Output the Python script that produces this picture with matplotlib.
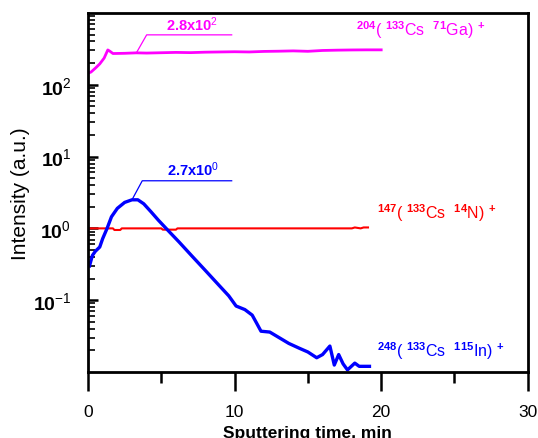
import matplotlib
matplotlib.use("Agg")
import matplotlib.pyplot as plt
from matplotlib.ticker import FixedLocator, LogLocator, NullFormatter

plt.rcParams['font.family'] = ['Liberation Sans', 'DejaVu Sans']
plt.rcParams['mathtext.fontset'] = 'custom'
plt.rcParams['mathtext.rm'] = 'Liberation Sans'
plt.rcParams['mathtext.bf'] = 'Liberation Sans:bold'
plt.rcParams['mathtext.it'] = 'Liberation Sans:italic'

# datos
ga_t = [0.0, 0.2, 0.5, 0.8, 1.1, 1.35, 1.5, 1.7, 2.5, 3.3, 4.0, 5.0, 6.0, 7.0,
        8.0, 9.0, 10.0, 11.0, 12.0, 13.0, 14.0, 15.0, 16.0, 17.0, 18.0, 19.0, 20.0]
ga_v = [145, 150, 170, 195, 235, 305, 292, 272, 274, 278, 276, 279, 282, 280,
        284, 286, 288, 286, 291, 293, 296, 292, 300, 303, 305, 306, 306]

n_t = [0.0, 1.7, 1.8, 2.2, 2.3, 5.0, 5.1, 6.0, 6.1, 18.0, 18.2, 18.6, 18.8, 19.1]
n_v = [1.0, 1.0, 0.95, 0.95, 1.0, 1.0, 0.96, 0.96, 1.0, 1.0, 1.03, 1.0, 1.03, 1.03]

in_t = [0.1, 0.3, 0.5, 0.8, 1.0, 1.3, 1.6, 2.0, 2.5, 3.0, 3.4, 3.8, 4.3, 4.8,
        5.45, 6.2, 7.1, 8.0, 9.0, 9.6, 10.1, 10.7, 11.2, 11.5, 11.8, 12.4, 13.05,
        13.7, 14.4, 15.0, 15.6, 16.0, 16.5, 16.8, 17.1, 17.4, 17.7, 18.2, 18.5, 19.2]
in_v = [0.3, 0.42, 0.48, 0.55, 0.72, 1.0, 1.45, 1.9, 2.3, 2.5, 2.5, 2.2, 1.7, 1.3,
        0.94, 0.65, 0.41, 0.26, 0.156, 0.115, 0.083, 0.074, 0.062, 0.048, 0.037, 0.036, 0.030,
        0.025, 0.0215, 0.019, 0.0158, 0.0175, 0.023, 0.0125, 0.0175, 0.013, 0.0107, 0.0133, 0.012, 0.012]

ga_label = r'$^{\mathbf{204}}$( $^{\mathbf{133}}$Cs  $^{\mathbf{71}}$Ga) $^{\mathbf{+}}$'
n_label = r'$^{\mathbf{147}}$( $^{\mathbf{133}}$Cs  $^{\mathbf{14}}$N) $^{\mathbf{+}}$'
in_label = r'$^{\mathbf{248}}$( $^{\mathbf{133}}$Cs  $^{\mathbf{115}}$In) $^{\mathbf{+}}$'

x_ticks = [0, 10, 20, 30]
y_ticks = [0.1, 1, 10, 100]
y_ticklabels = [r'$\mathbf{10}^{-1}$', r'$\mathbf{10}^{0}$', r'$\mathbf{10}^{1}$', r'$\mathbf{10}^{2}$']

fig = plt.figure(figsize=(5.38, 4.39), dpi=100)
ax = fig.add_axes([0.1636, 0.1503, 0.8174, 0.818])

ax.plot(ga_t, ga_v, color='#ff00ff', lw=2.0)
ax.plot(n_t, n_v, color='#ff0000', lw=1.5)
ax.plot(in_t, in_v, color='#0000ff', lw=2.4)

ax.set_yscale('log')
ax.set_xlim(0, 30)
ax.set_ylim(0.01, 1000)

# anotaciones de los maximos
i_ga = 9
ga_pk_t, ga_pk_v = ga_t[i_ga], ga_v[i_ga]
ax.plot([ga_pk_t, ga_pk_t + 0.7, 9.8], [ga_pk_v, ga_pk_v * 1.78, ga_pk_v * 1.78],
        color='#ff00ff', lw=0.9)
ax.text(7.1, ga_pk_v * 1.9, r'2.8x10$^{2}$', color='#ff00ff', fontsize=10.5,
        fontweight='bold', ha='center', va='bottom')

i_in = 9
in_pk_t, in_pk_v = in_t[i_in], in_v[i_in]
ax.plot([in_pk_t, in_pk_t + 0.7, 9.8], [in_pk_v, in_pk_v * 1.84, in_pk_v * 1.84],
        color='#0000ff', lw=0.9)
ax.text(7.2, in_pk_v * 1.98, r'2.7x10$^{0}$', color='#0000ff', fontsize=10.5,
        fontweight='bold', ha='center', va='bottom')

ax.text(18.3, 600, ga_label, color='#ff00ff', fontsize=11.5, va='center', ha='left')
ax.text(19.7, 1.67, n_label, color='#ff0000', fontsize=11.5, va='center', ha='left')
ax.text(19.7, 0.0203, in_label, color='#0000ff', fontsize=11.5, va='center', ha='left')

ax.xaxis.set_major_locator(FixedLocator(x_ticks))
ax.xaxis.set_minor_locator(FixedLocator([5, 15, 25]))
ax.set_xticklabels([str(t) for t in x_ticks], fontsize=12.5)
ax.tick_params(axis='x', which='major', direction='out', length=14, width=1.8, pad=9)
ax.tick_params(axis='x', which='minor', direction='out', length=8, width=1.8)

ax.yaxis.set_major_locator(FixedLocator(y_ticks))
ax.set_yticklabels(y_ticklabels, fontsize=14)
ax.yaxis.set_minor_locator(LogLocator(base=10, subs=range(2, 10)))
ax.yaxis.set_minor_formatter(NullFormatter())
ax.tick_params(axis='y', which='major', direction='in', length=7, width=1.8, pad=12)
ax.tick_params(axis='y', which='minor', direction='in', length=5, width=1.2)

for s in ax.spines.values():
    s.set_linewidth(2)

ax.set_xlabel('Sputtering time, min', fontsize=12.5, fontweight='bold', labelpad=4)
ax.set_ylabel('Intensity (a.u.)', fontsize=15, labelpad=2)

plt.savefig('out.png', dpi=100)
plt.close()
